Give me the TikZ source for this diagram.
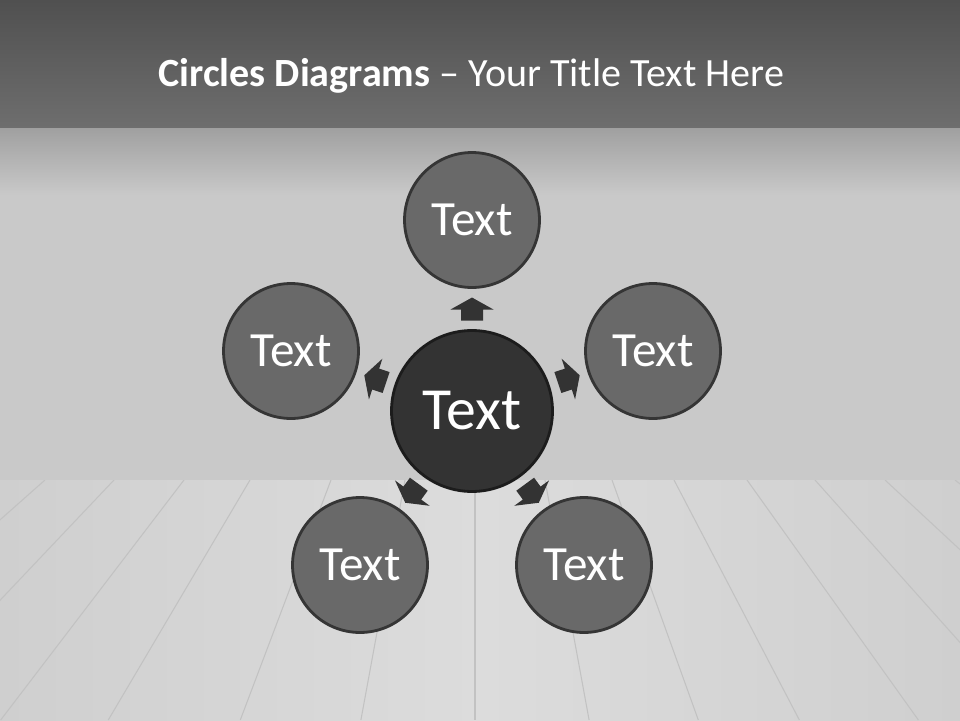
\documentclass[tikz,border=0pt]{standalone}
\usepackage{fontspec}
\setmainfont{Carlito}
\usetikzlibrary{calc}
\definecolor{bandtop}{HTML}{505050}
\definecolor{bandbot}{HTML}{6E6E6E}
\definecolor{wallA}{HTML}{A0A0A0}
\definecolor{wallB}{HTML}{C9C9C9}
\definecolor{floorside}{HTML}{CFCFCF}
\definecolor{floormid}{HTML}{DCDCDC}
\definecolor{plankline}{HTML}{C2C2C2}
\definecolor{satfill}{HTML}{696969}
\definecolor{satline}{HTML}{353535}
\definecolor{cenfill}{HTML}{333333}
\definecolor{cenline}{HTML}{1C1C1C}
\definecolor{arrowfill}{HTML}{333333}
\tikzset{
  sat/.style={circle, fill=satfill, draw=satline, line width=1.6pt, minimum size=2.70cm, inner sep=0pt, text=white, font=\fontsize{28}{32}\selectfont},
  cen/.style={circle, fill=cenfill, draw=cenline, line width=1.6pt, minimum size=3.22cm, inner sep=0pt, text=white, font=\fontsize{34}{38}\selectfont},
  pointer/.pic={\fill[arrowfill] (-11,-11) -- (0,-11) -- (0,-21.5) -- (12,0) -- (0,21.5) -- (0,11) -- (-11,11) -- cycle;},
  plank/.style={draw=plankline, line width=0.6pt}
}
\begin{document}
\begin{tikzpicture}[x=0.02cm, y=-0.02cm]
\useasboundingbox (0,0) rectangle (960,720);
% background
\shade[top color=bandtop, bottom color=bandbot] (0,0) rectangle (960,128);
\shade[top color=wallA, bottom color=wallB] (0,128) rectangle (960,195);
\fill[wallB] (0,195) rectangle (960,480);
\shade[left color=floorside, right color=floorside, middle color=floormid] (0,480) rectangle (960,720);
\begin{scope}
  \clip (0,480) rectangle (960,720);
  \foreach \hx in {-235,-165,-95,-25,45,114,184,250,331,405,475,545,612,674,747,815,885,955,1025,1095,1165} {
    \pgfmathsetmacro{\bx}{475+(\hx-475)*1.63}
    \draw[plank] (\hx,480) -- (\bx,720);
  }
\end{scope}
% title
\node[anchor=base west, text=white, font=\fontsize{22.8}{27}\selectfont, inner sep=0pt] (title) at (158,86) {\textbf{Circles Diagrams} – Your Title Text Here};
% circles
\node[cen] (c) at (472,411) {Text};
\node[sat] (t) at (472,220) {Text};
\node[sat] (l) at (291,351) {Text};
\node[sat] (r) at (653,351) {Text};
\node[sat] (bl) at (360,565) {Text};
\node[sat] (br) at (584,565) {Text};
% pointers
\pic[rotate=90] at ($(c)!2.03cm!(t)$) {pointer};
\pic[rotate=161.7] at ($(c)!2.03cm!(l)$) {pointer};
\pic[rotate=18.3] at ($(c)!2.03cm!(r)$) {pointer};
\pic[rotate=-126.2] at ($(c)!2.03cm!(bl)$) {pointer};
\pic[rotate=-53.8] at ($(c)!2.03cm!(br)$) {pointer};
\end{tikzpicture}
\end{document}
